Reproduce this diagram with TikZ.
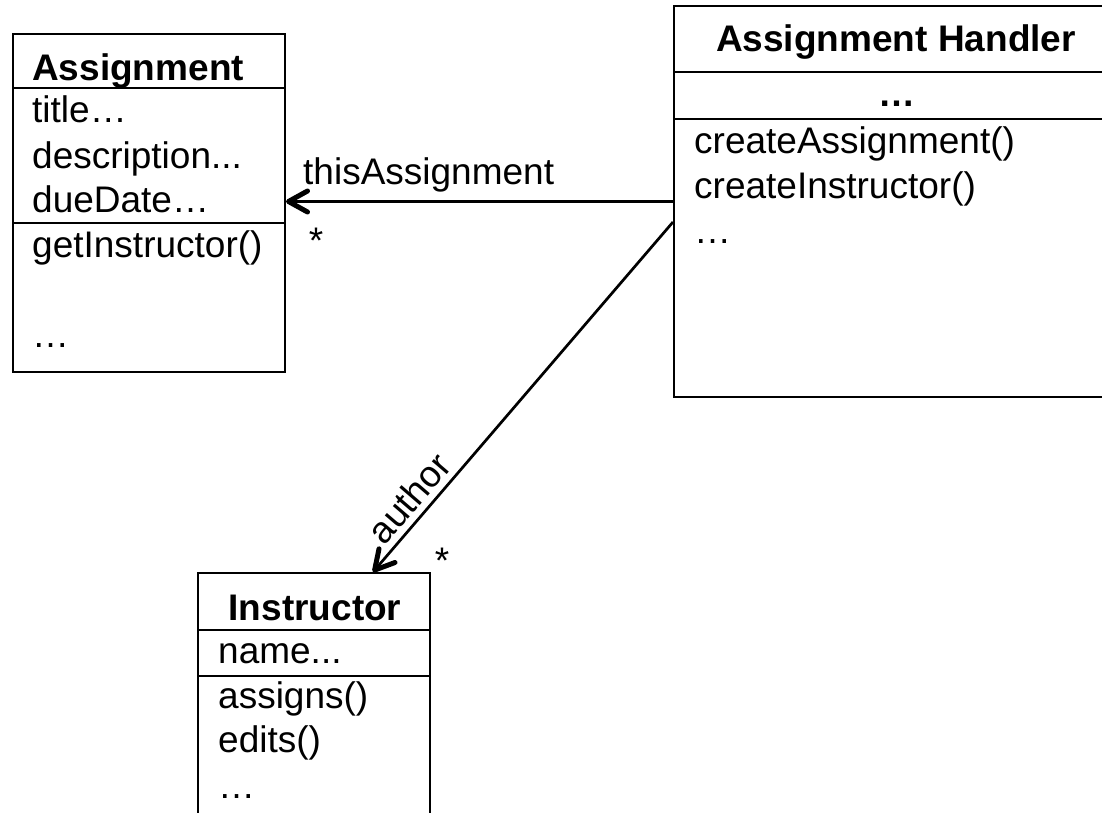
\documentclass[tikz,border=0pt]{standalone}
\usepackage{fontspec}
\setmainfont{Liberation Sans}
\usetikzlibrary{arrows.meta,calc}
\begin{document}
\begin{tikzpicture}[x=1pt,y=-1pt,
  classbox/.style={draw,line width=2pt,rectangle,inner sep=0pt},
  sep/.style={line width=2pt},
  txt/.style={inner sep=0pt,anchor=base west,font=\fontsize{37}{44}\selectfont},
  ttl/.style={inner sep=0pt,anchor=base,font=\fontsize{37}{44}\selectfont\bfseries},
  mult/.style={inner sep=0pt,anchor=base,font=\fontsize{37}{44}\selectfont},
  assoc/.style={line width=2.7pt,-{Straight Barb[length=19pt,width=21pt,line width=5pt,round]}},
]
\useasboundingbox (0,0) rectangle (1102,813);
\clip (0,0) rectangle (1102,813);

% class boxes
\node[classbox,minimum width=272pt,minimum height=338pt] (asg) at (149,203) {};
\node[classbox,minimum width=444pt,minimum height=391pt] (hdl) at (896,201.5) {};
\node[classbox,minimum width=232pt,minimum height=257pt] (ins) at (314,701.5) {};

% compartment separators
\draw[sep] (asg.west |- 0,88) -- (asg.east |- 0,88);
\draw[sep] (asg.west |- 0,223) -- (asg.east |- 0,223);
\draw[sep] (hdl.west |- 0,72) -- (hdl.east |- 0,72);
\draw[sep] (hdl.west |- 0,119) -- (hdl.east |- 0,119);
\draw[sep] (ins.west |- 0,630) -- (ins.east |- 0,630);
\draw[sep] (ins.west |- 0,676) -- (ins.east |- 0,676);

% Assignment
\node[ttl,anchor=base west] (asgname) at (32,81) {Assignment};
\node[txt] (asgtitle) at (32,123) {title…};
\node[txt] (asgdesc) at (32,168) {description...};
\node[txt] (asgdue) at (32,212) {dueDate…};
\node[txt] (asgget) at (32,257) {getInstructor()};
\node[txt] (asgmore) at (32,347) {…};

% Assignment Handler
\node[ttl] (hdlname) at (896,52) {Assignment Handler};
\node[ttl] (hdlattr) at (897,107) {…};
\node[txt] (hdlca) at (694,154) {createAssignment()};
\node[txt] (hdlci) at (694,199) {createInstructor()};
\node[txt] (hdlmore) at (694,243) {…};

% Instructor
\node[ttl] (insname) at (315,620) {Instructor};
\node[txt] (insn) at (218,663) {name...};
\node[txt] (insa) at (218,708) {assigns()};
\node[txt] (inse) at (218,752) {edits()};
\node[txt] (insmore) at (218,798) {…};

% associations
\coordinate (hdlout) at ($(hdl.west)+(0,20.5)$);
\coordinate (insin) at ($(ins.north)+(59,0)$);
\draw[assoc] (hdl.west) -- (asg.east |- hdl.west);
\draw[assoc] (hdlout) -- (insin);

% association labels
\node[txt] (lblthis) at (303,185) {thisAssignment};
\node[mult] (multasg) at (316,253) {*};
\node[inner sep=0pt,font=\fontsize{37}{44}\selectfont,rotate=49.3] (lblauthor) at (409,498) {author};
\node[mult] (multins) at (442,573) {*};
\end{tikzpicture}
\end{document}
